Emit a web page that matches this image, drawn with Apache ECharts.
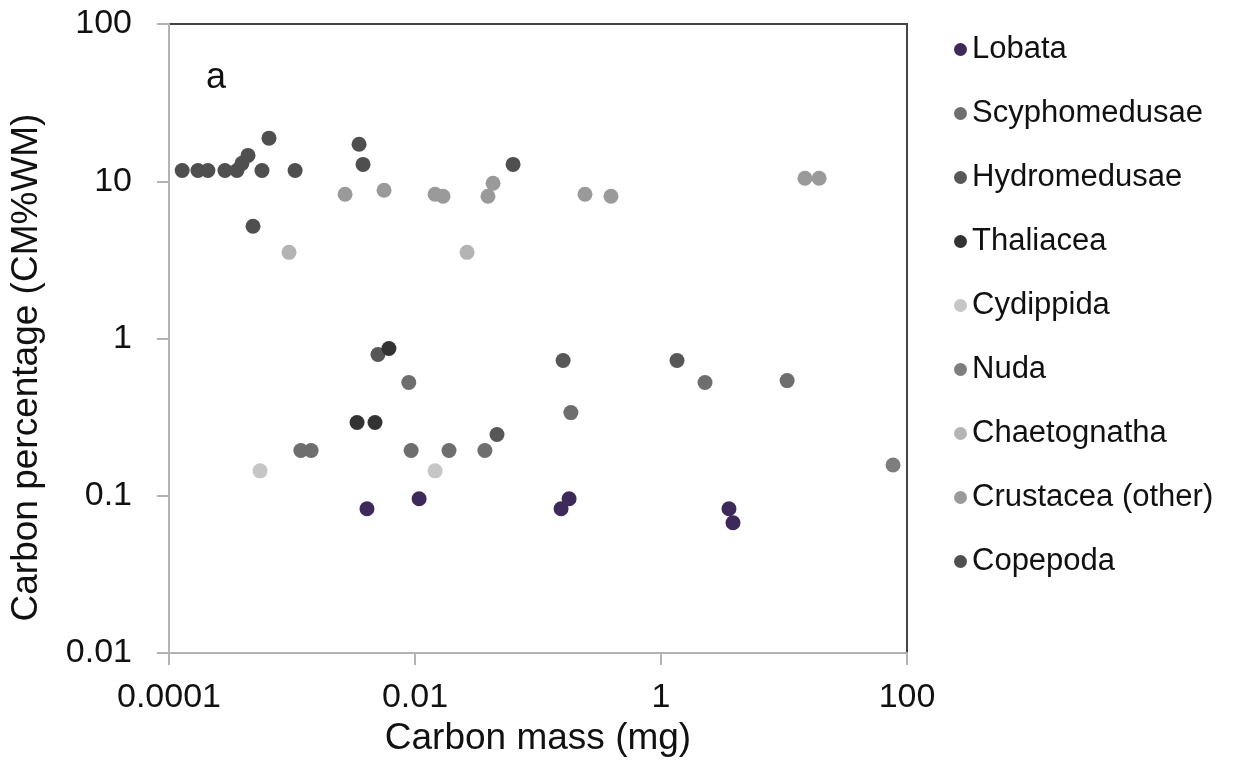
<!DOCTYPE html>
<html>
<head>
<meta charset="utf-8">
<script src="https://cdn.jsdelivr.net/npm/echarts@6/dist/echarts.min.js"></script>
<style>
  html, body { margin: 0; padding: 0; background: #fff; }
  #chart { width: 1234px; height: 778px; }
</style>
</head>
<body>
<div id="chart"></div>
<script>
// tick labels
const xTicks = ['0.0001', '0.01', '1', '100'];
const yTicks = ['0.01', '0.1', '1', '10', '100'];

const groups = ['Lobata', 'Scyphomedusae', 'Hydromedusae', 'Thaliacea', 'Cydippida',
  'Nuda', 'Chaetognatha', 'Crustacea (other)', 'Copepoda'];

// [carbon mass (mg), carbon % of wet mass]
const lobata = [[0.00407, 0.0826], [0.0108, 0.0957], [0.154, 0.0826], [0.179, 0.0957],
  [3.57, 0.0826], [3.85, 0.0673]];
const scyphomedusae = [[0.0089, 0.525], [2.28, 0.525], [10.6, 0.54], [0.185, 0.338],
  [0.00118, 0.194], [0.00143, 0.194], [0.0093, 0.194], [0.0189, 0.194], [0.037, 0.194]];
const hydromedusae = [[0.005, 0.791], [0.16, 0.724], [1.35, 0.724], [0.0464, 0.245]];
const thaliacea = [[0.00614, 0.863], [0.00338, 0.292], [0.00473, 0.292]];
const cydippida = [[0.00055, 0.144], [0.01456, 0.144]];
const nuda = [[77, 0.157]];
const chaetognatha = [[0.000946, 3.53], [0.0265, 3.53]];
const crustacea = [[0.0027, 8.26], [0.0056, 8.76], [0.01456, 8.26], [0.0169, 8.02],
  [0.0392, 8.02], [0.0431, 9.71], [0.241, 8.26], [0.392, 8.02], [14.8, 10.45], [19.3, 10.45]];
const copepoda = [[0.000128, 11.7], [0.000172, 11.7], [0.000207, 11.7], [0.000285, 11.7],
  [0.000357, 11.7], [0.000392, 13.0], [0.000439, 14.6], [0.00057, 11.7], [0.00065, 18.8],
  [0.00106, 11.7], [0.00351, 17.2], [0.00378, 12.8], [0.0627, 12.8], [0.000482, 5.17]];

const values = [lobata, scyphomedusae, hydromedusae, thaliacea, cydippida,
  nuda, chaetognatha, crustacea, copepoda];
const colors = ['#3e2a5a', '#6e6e6e', '#575757', '#333333', '#c6c6c6',
  '#7e7e7e', '#b4b4b4', '#9a9a9a', '#4f4f4f'];

const font = 'Liberation Sans, Arial, sans-serif';
const axisGray = '#b3b3b3';

const tickLabel = (labels) => (v) => {
  const e = Math.round(Math.log10(v));
  const hit = labels.find(l => Math.round(Math.log10(parseFloat(l))) === e);
  return hit || '';
};

let myChart = echarts.init(document.getElementById('chart'));
myChart.setOption({
  animation: false,
  title: {
    text: 'a',
    left: 201,
    top: 55,
    textStyle: { fontFamily: font, fontSize: 36, fontWeight: 'normal', color: '#111' }
  },
  legend: {
    orient: 'vertical',
    left: 949,
    top: 29,
    icon: 'circle',
    itemWidth: 13,
    itemHeight: 13,
    itemGap: 33,
    selectedMode: false,
    data: groups,
    textStyle: { fontFamily: font, fontSize: 31, color: '#111' }
  },
  grid: {
    left: 169,
    right: 327,
    top: 24,
    bottom: 125,
    show: true,
    borderColor: '#444',
    borderWidth: 2
  },
  xAxis: {
    type: 'log',
    logBase: 10,
    min: 0.0001,
    max: 100,
    interval: 2,
    name: 'Carbon mass (mg)',
    nameLocation: 'middle',
    nameGap: 64,
    nameTextStyle: { fontFamily: font, fontSize: 37, color: '#111' },
    axisLine: { lineStyle: { color: axisGray, width: 2 } },
    axisTick: { show: true, length: 12, lineStyle: { color: axisGray, width: 2 } },
    minorTick: { show: false },
    splitLine: { show: false },
    axisLabel: {
      margin: 28,
      fontFamily: font,
      fontSize: 34,
      color: '#111',
      formatter: tickLabel(xTicks)
    }
  },
  yAxis: {
    type: 'log',
    logBase: 10,
    min: 0.01,
    max: 100,
    interval: 1,
    name: 'Carbon percentage (CM%WM)',
    nameLocation: 'middle',
    nameGap: 124,
    nameTextStyle: { fontFamily: font, fontSize: 37, color: '#111', padding: [0, 58, 0, 0] },
    axisLine: { lineStyle: { color: axisGray, width: 2 } },
    axisTick: { show: true, length: 12, lineStyle: { color: axisGray, width: 2 } },
    splitLine: { show: false },
    axisLabel: {
      margin: 37,
      fontFamily: font,
      fontSize: 34,
      color: '#111',
      formatter: tickLabel(yTicks)
    }
  },
  series: groups.map((name, i) => ({
    name,
    type: 'scatter',
    symbol: 'circle',
    symbolSize: 15,
    data: values[i],
    itemStyle: { color: colors[i], opacity: 1 }
  }))
});
</script>
</body>
</html>
